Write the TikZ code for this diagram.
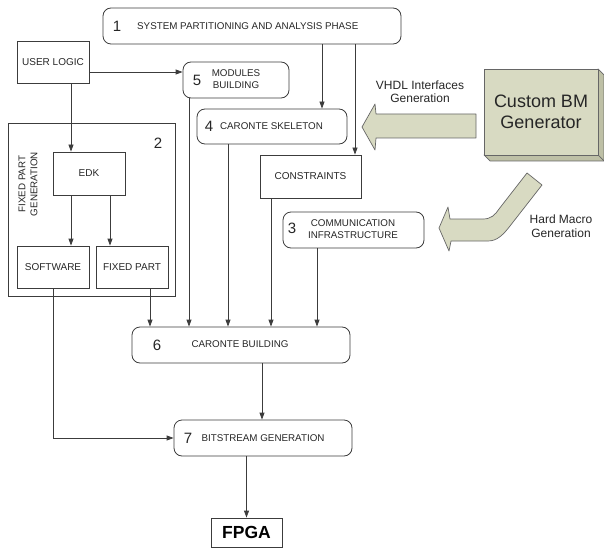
\documentclass[tikz,border=0pt]{standalone}
\usepackage{fontspec}
\setmainfont{Liberation Sans}
\usetikzlibrary{arrows.meta}

\definecolor{bmkhaki}{RGB}{216,218,194}
\definecolor{bmshade}{RGB}{190,192,166}
\definecolor{inkgray}{RGB}{60,60,60}

\tikzset{
  phase/.style={draw=inkgray, line width=0.8pt, rounded corners=8pt, inner sep=0pt},
  block/.style={draw=inkgray, line width=0.8pt, inner sep=0pt, align=center,
    font=\fontsize{10}{12}\selectfont, text=black!85},
  num/.style={inner sep=0pt, font=\fontsize{15}{15}\selectfont, text=black!85},
  caps/.style={inner sep=0pt, align=center, font=\fontsize{9.8}{12}\selectfont, text=black!85},
  flow/.style={draw=inkgray, line width=0.8pt, -{Triangle[length=7pt,width=5pt]}},
  bigarrow/.style={fill=bmkhaki, draw=black!60, line width=0.7pt, line join=round},
  note/.style={inner sep=0pt, align=center, font=\fontsize{12}{13.5}\selectfont, text=black!85},
}

\begin{document}
\begin{tikzpicture}[x=1pt, y=-1pt]
\useasboundingbox (0,0) rectangle (604,548);

% Phase 1
\node[phase, minimum width=298, minimum height=36] (p1) at (252,26) {};
\node[num] at (117,26) {1};
\node[caps, anchor=west] at (137,26) {SYSTEM PARTITIONING AND ANALYSIS PHASE};

% User logic and fixed part (2)
\node[block, minimum width=72, minimum height=42] (user) at (53,62) {USER LOGIC};
\node[block, minimum width=167, minimum height=173] (fixed) at (91.5,209.5) {};
\node[num] at (158,143) {2};
\node[caps, rotate=90] at (28,184) {FIXED PART\\GENERATION};
\node[block, minimum width=72, minimum height=43] (edk) at (89,173.5) {EDK};
\node[block, minimum width=72, minimum height=42] (sw) at (53,267) {SOFTWARE};
\node[block, minimum width=72, minimum height=42] (fp) at (132,267) {FIXED PART};

% Phases 5, 4, 3
\node[phase, minimum width=106, minimum height=36] (p5) at (236,80) {};
\node[num] at (197,80) {5};
\node[caps] at (236,79) {MODULES\\BUILDING};

\node[phase, minimum width=150, minimum height=35] (p4) at (272,126.5) {};
\node[num] at (209,126) {4};
\node[caps] at (271.5,126) {CARONTE SKELETON};

\node[block, minimum width=101, minimum height=43] (cons) at (310.5,176.5) {CONSTRAINTS};

\node[phase, minimum width=141, minimum height=36] (p3) at (353.5,230) {};
\node[num] at (292,228) {3};
\node[caps] at (353,229.5) {COMMUNICATION\\INFRASTRUCTURE};

% Phases 6, 7 and target
\node[phase, minimum width=218, minimum height=36] (p6) at (241,345) {};
\node[num] at (157,345) {6};
\node[caps] at (240,344) {CARONTE BUILDING};

\node[phase, minimum width=178, minimum height=36] (p7) at (263,438) {};
\node[num] at (188,438) {7};
\node[caps] at (263,438) {BITSTREAM GENERATION};

\node[block, minimum width=71, minimum height=29,
  font=\bfseries\fontsize{17.5}{18}\selectfont, text=black] (fpga) at (246.5,532.5) {FPGA};

% Custom BM generator
\draw[bigarrow, fill=bmshade] (598,69) -- ++(6,6) -- ++(0,86) -- ++(-114,0)
  -- (484,155) -- (598,155) -- cycle;
\draw[black!60, line width=0.7pt] (598,155) -- ++(6,6);
\node[bigarrow, minimum width=114, minimum height=86, inner sep=0pt, align=center,
  font=\fontsize{18}{21}\selectfont, text=black!85] (gen) at (541,112) {Custom BM\\Generator};

% Block arrows
\draw[bigarrow] (362,127) -- (375,104) -- (376,114) -- (476,114) -- (476,138)
  -- (376,138) -- (375,150) -- cycle;
\draw[bigarrow] (439,228) -- (448,207) -- (450,219) -- (483,219)
  .. controls (491,219) and (495,215) .. (499,209) -- (527,173) -- (542,185)
  -- (510,226) .. controls (503,235) and (497,241) .. (488,241)
  -- (451,241) -- (449,251) -- cycle;
\node[note] (vhdl) at (420,91.5) {VHDL Interfaces\\Generation};
\node[note] (hmacro) at (561,226) {Hard Macro\\Generation};

% Connectors
\draw[flow] ([yshift=-10pt]user.east) -- ([yshift=-10pt]user.east -| p5.west);
\draw[flow] ([xshift=18pt]user.south) -- ([xshift=18pt]user.south |- edk.north);
\draw[flow] ([xshift=-18pt]edk.south) -- ([xshift=-18pt]edk.south |- sw.north);
\draw[flow] ([xshift=21pt]edk.south) -- ([xshift=21pt]edk.south |- fp.north);
\draw[flow] ([xshift=70pt]p1.south) -- ([xshift=70pt]p1.south |- p4.north);
\draw[flow] ([xshift=103pt]p1.south) -- ([xshift=103pt]p1.south |- cons.north);
\draw[flow] ([xshift=18pt]fp.south) -- ([xshift=18pt]fp.south |- p6.north);
\draw[flow] ([xshift=-47pt]p5.south) -- ([xshift=-47pt]p5.south |- p6.north);
\draw[flow] ([xshift=-44pt]p4.south) -- ([xshift=-44pt]p4.south |- p6.north);
\draw[flow] ([xshift=-39.5pt]cons.south) -- ([xshift=-39.5pt]cons.south |- p6.north);
\draw[flow] ([xshift=-36.5pt]p3.south) -- ([xshift=-36.5pt]p3.south |- p6.north);
\draw[flow] ([xshift=21pt]p6.south) -- ([xshift=21pt]p6.south |- p7.north);
\draw[flow] (sw.south) |- (p7.west);
\draw[flow] (fpga.north |- p7.south) -- (fpga.north);

\end{tikzpicture}
\end{document}
